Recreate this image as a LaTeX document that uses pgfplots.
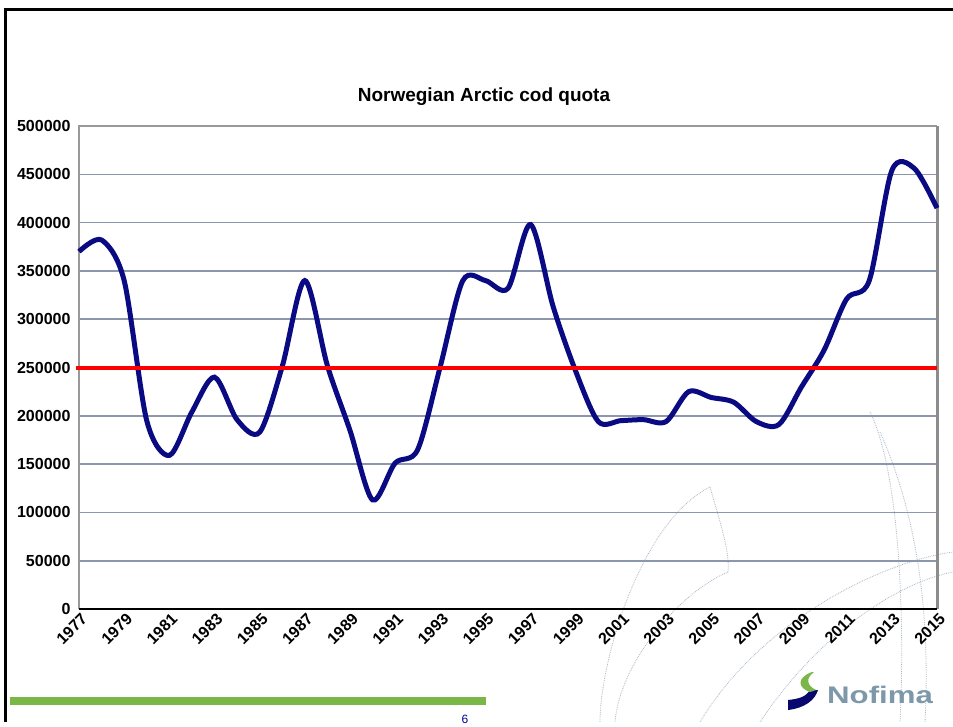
\documentclass[border=0pt]{standalone}
\usepackage{pgfplots}
\pgfplotsset{compat=1.18}
\usepackage{fontspec}
\setmainfont{Liberation Sans}
\definecolor{gridc}{RGB}{140,150,172}
\definecolor{navyc}{RGB}{10,10,130}
\definecolor{greenbar}{RGB}{122,182,72}
\definecolor{nofgray}{RGB}{125,152,168}
\definecolor{arcc}{RGB}{170,185,198}
\pgfplotstableread{
year quota
1977 370000
1978 382000
1979 340000
1980 195000
1981 159000
1982 204000
1983 240000
1984 196000
1985 183000
1986 251000
1987 340000
1988 252000
1989 185000
1990 113000
1991 151000
1992 165000
1993 251000
1994 340000
1995 340000
1996 332000
1997 398000
1998 313000
1999 246000
2000 194000
2001 195000
2002 196000
2003 194000
2004 225000
2005 219000
2006 214000
2007 194000
2008 191000
2009 230000
2010 268000
2011 321000
2012 340000
2013 454000
2014 456000
2015 415000
}\quota
\begin{document}
\begin{tikzpicture}
\begin{scope}[x=1pt,y=1pt]
\path[use as bounding box,fill=white] (0,0) rectangle (953,722);
% slide frame
\draw[line width=3pt,black] (5,0) -- (5,712) -- (953,712);
% decorative arcs
\begin{scope}[arcc,densely dotted,line width=0.8pt]
\draw (600,0) .. controls (600,60) and (640,200) .. (710,235);
\draw (710,235) .. controls (720,200) and (730,170) .. (728,150);
\draw (728,150) .. controls (680,130) and (620,60) .. (615,0);
\draw (870,310) .. controls (900,250) and (905,100) .. (900,0);
\draw (880,290) .. controls (920,200) and (930,100) .. (925,0);
\draw (700,0) .. controls (760,100) and (880,160) .. (953,170);
\draw (760,0) .. controls (820,90) and (900,140) .. (953,150);
\end{scope}
\end{scope}
\begin{axis}[
  at={(79pt,113pt)}, anchor=south west,
  width=858pt, height=483pt, scale only axis,
  xmin=1977, xmax=2015, ymin=0, ymax=500000,
  scaled y ticks=false, scaled x ticks=false,
  xtick={1977,1979,...,2015},
  xticklabels={1977,1979,1981,1983,1985,1987,1989,1991,1993,1995,1997,1999,2001,2003,2005,2007,2009,2011,2013,2015},
  ytick={0,50000,100000,150000,200000,250000,300000,350000,400000,450000,500000},
  yticklabels={0,50000,100000,150000,200000,250000,300000,350000,400000,450000,500000},
  ymajorgrids, grid style={gridc,line width=1.6pt},
  axis line style={draw=none},
  tick style={draw=none},
  yticklabel style={font=\fontsize{16}{16}\selectfont\bfseries, xshift=-5pt},
  xticklabel style={font=\fontsize{16}{16}\selectfont\bfseries, rotate=45, anchor=east, yshift=-9pt, xshift=2pt},
  title={\fontsize{19}{19}\selectfont\bfseries Norwegian Arctic cod quota},
  title style={at={(0.472,1)}, yshift=11pt},
  clip=false,
]
\draw[gray!80,line width=1.8pt] (rel axis cs:0,0) -- (rel axis cs:0,1) -- (rel axis cs:1,1);
\draw[gray!90,line width=3pt] (rel axis cs:1,1) -- (rel axis cs:1,0);
\draw[black,line width=2pt] (rel axis cs:0,0) -- (rel axis cs:1,0);
\addplot[navyc, line width=5pt, smooth, tension=0.5] table[x=year,y=quota] {\quota};
\addplot[red, line width=4pt] coordinates {(1976.85,250000) (2015,250000)};
\end{axis}
\begin{scope}[x=1pt,y=1pt]
% footer
\fill[greenbar] (10,17) rectangle (486,25);
\node[text=blue!60!black,font=\fontsize{12}{12}\selectfont] at (465,3) {6};
% Nofima logo
\fill[navyc!85!black] (788,12) .. controls (805,14) and (815,22) .. (818,32) -- (810,32) .. controls (806,25) and (798,23) .. (788,22) -- cycle;
\fill[greenbar] (810,30) .. controls (798,34) and (796,44) .. (812,50) -- (814,50) .. controls (806,44) and (806,37) .. (816,32) -- cycle;
\node[text=nofgray,font=\fontsize{24}{24}\selectfont\bfseries,anchor=west,inner sep=0pt] at (827,27) {\scalebox{1.3}[1]{Nofima}};
\end{scope}
\end{tikzpicture}
\end{document}
